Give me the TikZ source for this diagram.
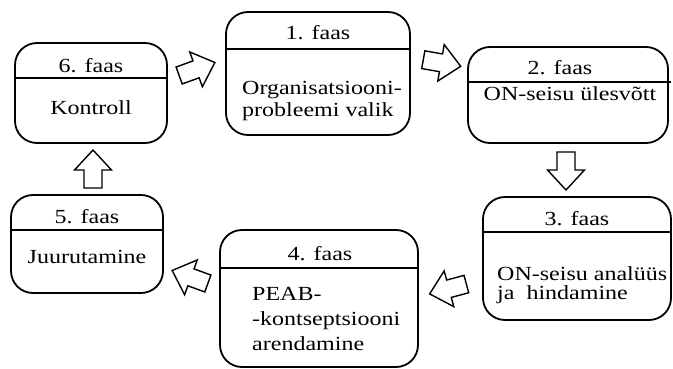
\documentclass[tikz,border=0pt]{standalone}
\usepackage{fontspec}
\setmainfont{Liberation Serif}[FakeStretch=1.2]
\usetikzlibrary{positioning, calc}

\newcommand{\phasearrow}[2]{%
  \draw[flow, shift={#1}, rotate=#2]
    (-19,-9) -- (-1,-9) -- (-1,-18.5) -- (19,0) -- (-1,18.5) -- (-1,9) -- (-19,9) -- cycle;}

\begin{document}
\begin{tikzpicture}[
    x=1pt, y=-1pt,
    phase/.style={rectangle, draw, line width=1.8pt, rounded corners=22pt, inner sep=0pt},
    divider/.style={line width=1.3pt},
    title/.style={font=\fontsize{20}{22}\selectfont, inner sep=0pt, anchor=base},
    body/.style={font=\fontsize{20}{22}\selectfont, inner sep=0pt, align=left},
    flow/.style={line width=1.4pt, line join=miter}
  ]
  \useasboundingbox (0,0) rectangle (673,369);

  % ---- phase boxes ----
  \node[phase, minimum width=152pt, minimum height=100pt] (f6) at (91,93) {};
  \node[phase, minimum width=184pt, minimum height=123pt] (f1) at (318,73.5) {};
  \node[phase, minimum width=200pt, minimum height=96pt] (f2) at (568,95) {};
  \node[phase, minimum width=188pt, minimum height=123pt] (f3) at (577,258.5) {};
  \node[phase, minimum width=198pt, minimum height=137pt] (f4) at (319,298.5) {};
  \node[phase, minimum width=152pt, minimum height=98pt] (f5) at (87,244) {};

  % dividers
  \draw[divider] (f6.west |- 0,78) -- (f6.east |- 0,78);
  \draw[divider] (f1.west |- 0,49) -- (f1.east |- 0,49);
  \draw[divider] (f2.west |- 0,82) -- ([xshift=2pt]f2.east |- 0,82);
  \draw[divider] (f3.west |- 0,232) -- (f3.east |- 0,232);
  \draw[divider] (f4.west |- 0,268) -- (f4.east |- 0,268);
  \draw[divider] (f5.west |- 0,230) -- (f5.east |- 0,230);

  % titles
  \node[title] (t6) at (91,73) {6. faas};
  \node[title] (t1) at (318,40) {1. faas};
  \node[title] (t2) at (560,75) {2. faas};
  \node[title] (t3) at (577,225) {3. faas};
  \node[title] (t4) at (320,260) {4. faas};
  \node[title] (t5) at (87,223) {5. faas};

  % contents (base = last line)
  \node[body, anchor=base] (b6) at (91,114) {Kontroll};
  \node[body, anchor=base west] (b1) at (242,117) {Organisatsiooni-\\probleemi valik};
  \node[body, anchor=base] (b2) at (570,101) {ON-seisu ülesvõtt};
  \node[body, anchor=base west, font=\fontsize{20}{19}\selectfont] (b3) at (497,299) {ON-seisu analüüs\\ja\ \ hindamine};
  \node[body, anchor=base west, font=\fontsize{20}{25}\selectfont] (b4) at (252,350) {PEAB-\\-kontseptsiooni\\arendamine};
  \node[body, anchor=base] (b5) at (87,263) {Juurutamine};

  % ---- block arrows ----
  \phasearrow{(197,69)}{20}
  \phasearrow{(442,63)}{-10}
  \phasearrow{(566,171)}{-90}
  \phasearrow{(448,289)}{195}
  \phasearrow{(190,277)}{160}
  \phasearrow{(93,169)}{90}
\end{tikzpicture}
\end{document}
